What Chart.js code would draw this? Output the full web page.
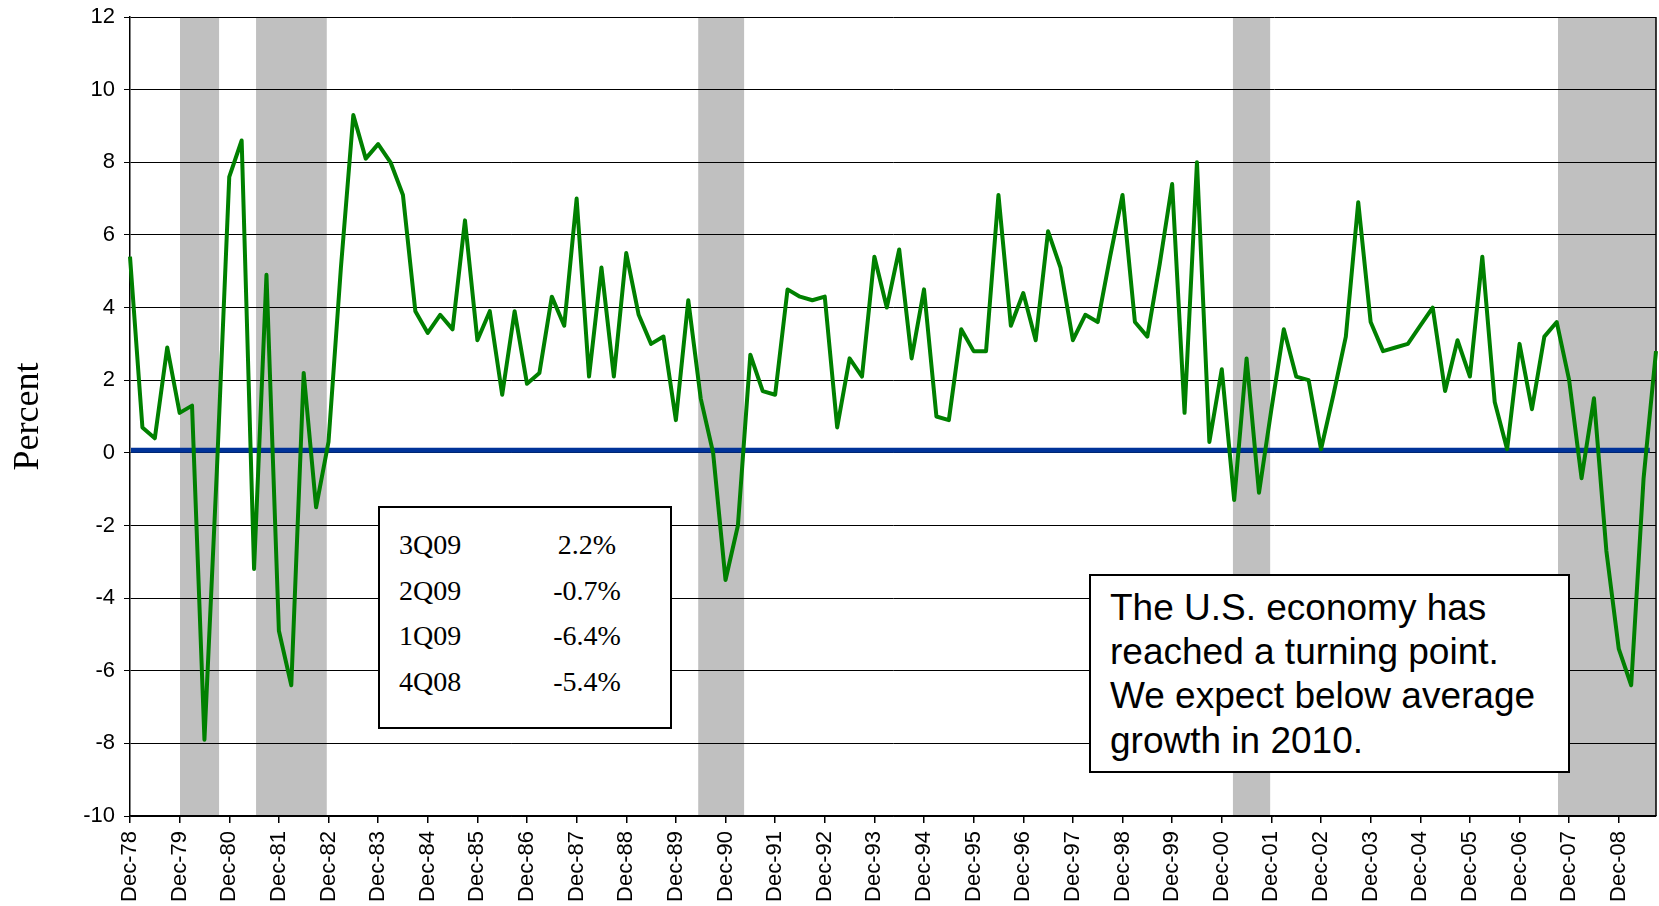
<!DOCTYPE html>
<html>
<head>
<meta charset="utf-8">
<title>Real GDP growth</title>
<script src="https://cdn.jsdelivr.net/npm/chart.js@4.4.1/dist/chart.umd.min.js"></script>
<style>
  html, body { margin: 0; padding: 0; background: #fff; overflow: hidden; }
  #wrap { position: relative; width: 1659px; height: 906px; }
  .box { position: absolute; box-sizing: border-box; border: 2px solid #000; background: #fff; color: #000; }
  #tableBox { left: 378px; top: 506px; width: 294px; height: 223px; padding-top: 14px;
              font-family: 'Liberation Serif', 'Times New Roman', serif; font-size: 28px; }
  #tableBox .row { position: relative; height: 45.7px; line-height: 45.7px; }
  #tableBox .q { position: absolute; left: 19px; }
  #tableBox .v { position: absolute; left: 147px; width: 120px; text-align: center; }
  #noteBox { left: 1089px; top: 574px; width: 481px; height: 199px; padding: 9.5px 0 0 19px;
             font-family: 'Liberation Sans', Arial, sans-serif; font-size: 37px; line-height: 44.4px; white-space: nowrap; }
</style>
</head>
<body>
<div id="wrap">
  <canvas id="gdpChart" width="1659" height="906"></canvas>
  <div class="box" id="tableBox"></div>
  <div class="box" id="noteBox"></div>
</div>
<script>
/* ---------- data ---------- */
// quarterly real GDP growth, annualized %, 4Q78 .. 3Q09
const gdpGrowth = [
  5.4, 0.7, 0.4, 2.9, 1.1, 1.3, -7.9, -0.5, 7.6, 8.6,
  -3.2, 4.9, -4.9, -6.4, 2.2, -1.5, 0.3, 5.1, 9.3, 8.1,
  8.5, 8.0, 7.1, 3.9, 3.3, 3.8, 3.4, 6.4, 3.1, 3.9,
  1.6, 3.9, 1.9, 2.2, 4.3, 3.5, 7.0, 2.1, 5.1, 2.1,
  5.5, 3.8, 3.0, 3.2, 0.9, 4.2, 1.5, 0.0, -3.5, -2.0,
  2.7, 1.7, 1.6, 4.5, 4.3, 4.2, 4.3, 0.7, 2.6, 2.1,
  5.4, 4.0, 5.6, 2.6, 4.5, 1.0, 0.9, 3.4, 2.8, 2.8,
  7.1, 3.5, 4.4, 3.1, 6.1, 5.1, 3.1, 3.8, 3.6, 5.4,
  7.1, 3.6, 3.2, 5.2, 7.4, 1.1, 8.0, 0.3, 2.3, -1.3,
  2.6, -1.1, 1.2, 3.4, 2.1, 2.0, 0.1, 1.6, 3.2, 6.9,
  3.6, 2.8, 2.9, 3.0, 3.5, 4.0, 1.7, 3.1, 2.1, 5.4,
  1.4, 0.1, 3.0, 1.2, 3.2, 3.6, 2.0, -0.7, 1.5, -2.7,
  -5.4, -6.4, -0.7, 2.8
];

const quarterMonths = ['Mar', 'Jun', 'Sep', 'Dec'];
const categories = [];
for (let y = 1978; y <= 2009; y++) {
  quarterMonths.forEach((m, q) => {
    if ((y === 1978 && q < 3) || (y === 2009 && q > 2)) return;
    categories.push(m + '-' + String(y).slice(2));
  });
}

const yTicks = { min: -10, max: 12, step: 2 };

// recession shading, in quarter positions along the x axis
const recessionFrom = [4.03, 10.16, 45.8, 88.9, 115.1];
const recessionTo   = [7.18, 15.86, 49.5, 91.9, 123];

const zeroLineEnd = 122.5;

const tableLabels = ['3Q09', '2Q09', '1Q09', '4Q08'];
const tableValues = ['2.2%', '-0.7%', '-6.4%', '-5.4%'];

const noteLines = ['The U.S. economy has', 'reached a turning point.', 'We expect below average', 'growth in 2010.'];

/* ---------- text boxes ---------- */
document.getElementById('tableBox').innerHTML = tableLabels.map((l, i) =>
  `<div class="row"><span class="q">${l}</span><span class="v">${tableValues[i]}</span></div>`).join('');
document.getElementById('noteBox').innerHTML = noteLines.join('<br>');

/* ---------- plugins ---------- */
const recessionBands = {
  id: 'recessionBands',
  beforeDraw(chart) {
    const { ctx, chartArea, scales: { x } } = chart;
    ctx.save();
    ctx.fillStyle = '#c0c0c0';
    recessionFrom.forEach((f, i) => {
      const x0 = x.getPixelForValue(f);
      const x1 = x.getPixelForValue(recessionTo[i]);
      ctx.fillRect(x0, chartArea.top, x1 - x0, chartArea.bottom - chartArea.top);
    });
    ctx.restore();
  }
};

const zeroLine = {
  id: 'zeroLine',
  beforeDatasetsDraw(chart) {
    const { ctx, chartArea, scales: { x, y } } = chart;
    const py = y.getPixelForValue(0) - 2.5;
    ctx.save();
    ctx.strokeStyle = '#003399';
    ctx.lineWidth = 5;
    ctx.beginPath();
    ctx.moveTo(x.getPixelForValue(0) + 1, py);
    ctx.lineTo(x.getPixelForValue(zeroLineEnd), py);
    ctx.stroke();
    // right frame edge
    ctx.strokeStyle = '#000';
    ctx.lineWidth = 1.5;
    ctx.beginPath();
    ctx.moveTo(chartArea.right, chartArea.top);
    ctx.lineTo(chartArea.right, chartArea.bottom);
    ctx.stroke();
    ctx.restore();
  }
};

/* ---------- chart ---------- */
new Chart(document.getElementById('gdpChart'), {
  type: 'line',
  data: {
    labels: categories,
    datasets: [{
      label: 'Real GDP growth',
      data: gdpGrowth,
      borderColor: '#008000',
      borderWidth: 4,
      borderJoinStyle: 'round',
      pointRadius: 0,
      tension: 0,
      fill: false
    }]
  },
  options: {
    responsive: false,
    devicePixelRatio: 1,
    animation: false,
    events: [],
    layout: { padding: { left: 0, top: 17, right: 3, bottom: 0 } },
    plugins: {
      legend: { display: false },
      tooltip: { enabled: false }
    },
    scales: {
      x: {
        type: 'category',
        offset: false,
        grid: {
          drawOnChartArea: false,
          drawTicks: true,
          tickLength: 7,
          lineWidth: 1.5,
          color: c => (c.tick && c.tick.label) ? '#000' : 'rgba(0,0,0,0)'
        },
        border: { display: true, color: '#000', width: 1.5 },
        ticks: {
          autoSkip: false,
          minRotation: 90,
          maxRotation: 90,
          padding: 8,
          color: '#000',
          font: { family: "'Liberation Sans', Arial, sans-serif", size: 22 },
          callback: function (v) {
            const lab = this.getLabelForValue(v);
            return lab.indexOf('Dec') === 0 ? lab : null;
          }
        },
        afterFit: s => { s.height = 90; }
      },
      y: {
        min: yTicks.min,
        max: yTicks.max,
        grid: { color: '#000', lineWidth: 1, tickLength: 6, drawTicks: true },
        border: { color: '#000', width: 1.5 },
        ticks: {
          stepSize: yTicks.step,
          padding: 9,
          color: '#000',
          font: { family: "'Liberation Sans', Arial, sans-serif", size: 22 }
        },
        title: {
          display: true,
          text: 'Percent',
          color: '#000',
          font: { family: "'Liberation Serif', 'Times New Roman', serif", size: 36 },
          padding: { top: 7, bottom: 0 }
        },
        afterFit: s => { s.width = 130; s.paddingTop = 0; s.paddingBottom = 0; }
      }
    }
  },
  plugins: [recessionBands, zeroLine]
});
</script>
</body>
</html>
